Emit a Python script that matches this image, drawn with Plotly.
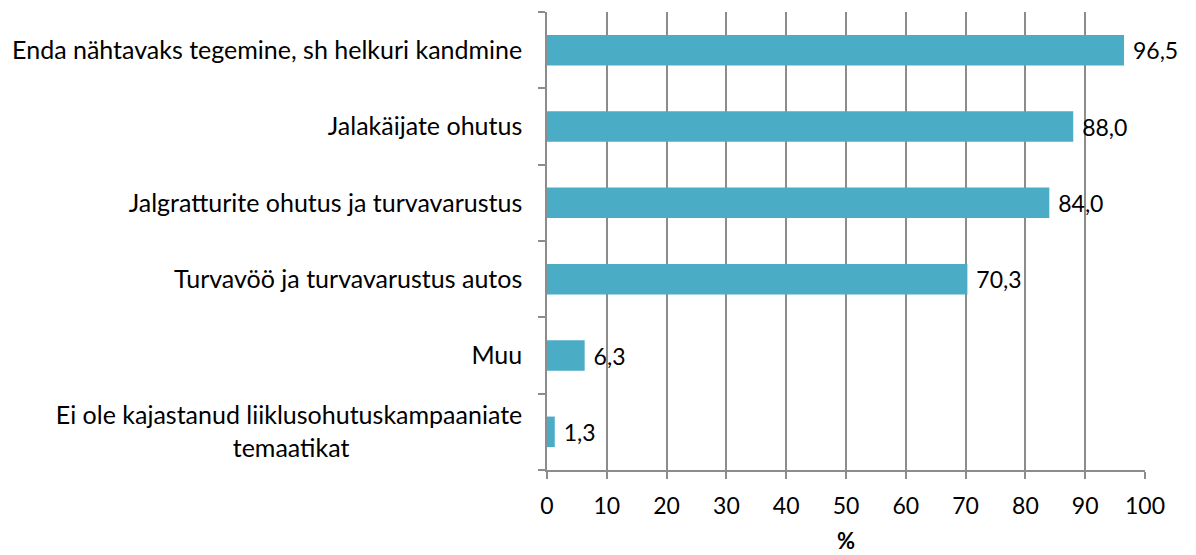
import plotly.graph_objects as go

categories = [
    "Enda nähtavaks tegemine, sh helkuri kandmine",
    "Jalakäijate ohutus",
    "Jalgratturite ohutus ja turvavarustus",
    "Turvavöö ja turvavarustus autos",
    "Muu",
    "Ei ole kajastanud liiklusohutuskampaaniate<br>temaatikat",
]
values = [96.5, 88.0, 84.0, 70.3, 6.3, 1.3]
labels = ["\u00a0" + f"{v:.1f}".replace(".", ",") for v in values]
x_ticks = list(range(0, 101, 10))

FONT = "Lato, Open Sans, sans-serif"

# centre the second line of the wrapped label (as in the original)
tick_text = [c.replace("temaatikat", "temaatikat" + "\u00a0" * 27) for c in categories]

fig = go.Figure(go.Bar(
    y=categories, x=values, orientation="h",
    marker=dict(color="#4BACC6", line=dict(width=0)),
    width=0.4,
    text=labels, textposition="outside", cliponaxis=False,
    textfont=dict(size=23, color="#000000", family=FONT),
))

fig.update_layout(
    width=1196, height=555,
    margin=dict(l=537, r=59, t=4, b=93),
    plot_bgcolor="white", paper_bgcolor="white",
    font=dict(family=FONT, size=23, color="#000000"),
    showlegend=False,
    xaxis=dict(
        range=[0, 100], tickvals=x_ticks, showgrid=True, gridcolor="#8c8c8c", gridwidth=1.5,
        showline=True, linecolor="#8c8c8c", linewidth=1.5,
        ticks="outside", ticklen=7, tickcolor="#8c8c8c", tickwidth=1.5,
        zeroline=False, tickfont=dict(size=23), ticklabelstandoff=8,
        title=dict(text="<b>%</b>", font=dict(size=22), standoff=15),
    ),
    yaxis=dict(
        autorange="reversed", showline=True, linecolor="#8c8c8c", linewidth=1.5,
        ticks="outside", ticklen=7, tickcolor="#8c8c8c", tickwidth=1.5,
        tickson="boundaries", showgrid=False, ticklabelstandoff=18,
        tickvals=categories, ticktext=tick_text,
        tickfont=dict(size=25),
    ),
)

fig.write_html("out.html")
